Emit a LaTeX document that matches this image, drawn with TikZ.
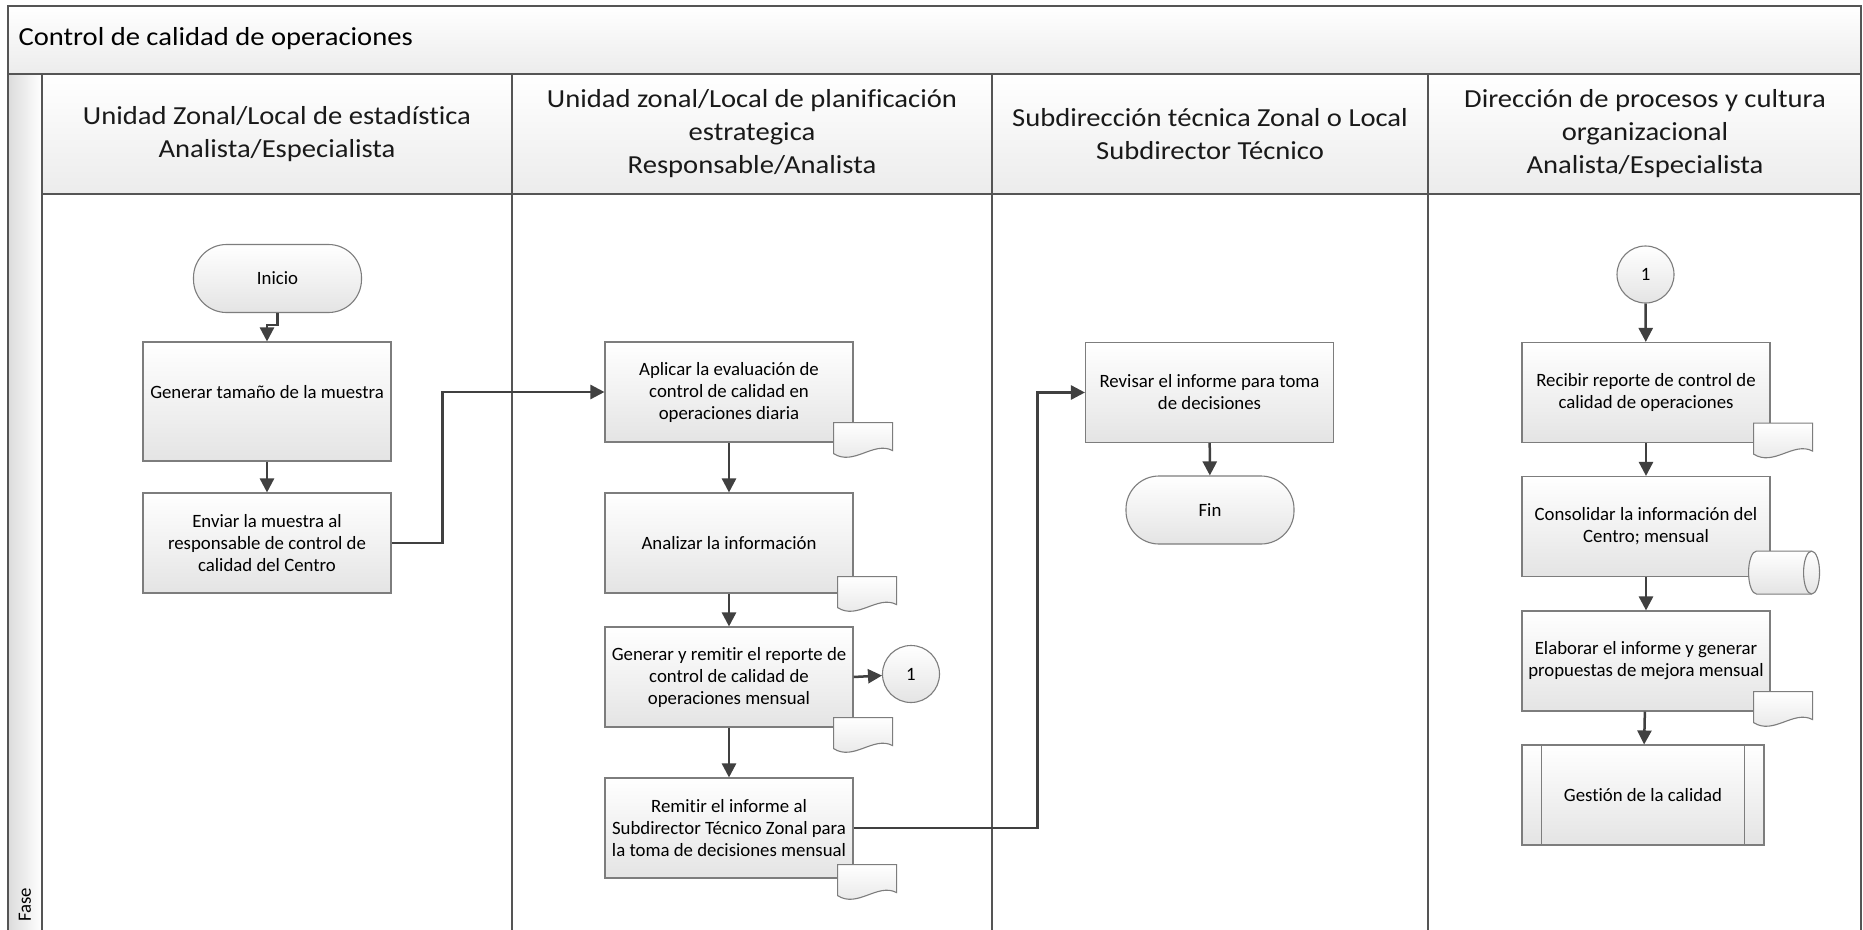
\documentclass[tikz,border=0pt]{standalone}
\usepackage{fontspec}
\setmainfont{Carlito}[Ligatures=NoCommon]
\newfontfamily\hdrfam[FakeStretch=1.1,Ligatures=NoCommon]{Carlito}
\usetikzlibrary{calc,arrows.meta}
\definecolor{lanec}{RGB}{85,85,85}
\definecolor{boxc}{RGB}{125,125,125}
\definecolor{arrc}{RGB}{64,64,64}
\definecolor{shadec}{RGB}{228,228,228}
\definecolor{hdrc}{RGB}{236,236,236}
\newcommand{\bodyf}{\fontsize{18.8}{22}\selectfont}
\newcommand{\hdrf}{\hdrfam\fontsize{26}{33}\selectfont}
\tikzset{
  lanebox/.style={draw=lanec, line width=1.8pt},
  hdrfill/.style={top color=white, bottom color=hdrc},
  hdrtext/.style={font=\hdrf, align=center, text=black!90},
  proc/.style={draw=boxc, line width=1.1pt, top color=white, bottom color=shadec,
    minimum width=248pt, minimum height=100pt, align=center, inner sep=0pt, font=\bodyf},
  term/.style={draw=boxc, line width=1.1pt, rounded corners=33pt, top color=white, bottom color=shadec,
    minimum width=168pt, minimum height=68pt, font=\bodyf},
  conn/.style={draw=boxc, line width=1.1pt, circle, minimum size=57pt, inner sep=0pt,
    top color=white, bottom color=shadec, font=\bodyf},
  docst/.style={draw=boxc, line width=1.1pt, top color=white, bottom color=shadec},
  arr/.style={draw=arrc, line width=2.5pt, -{Triangle[length=14pt,width=14pt]}},
}
\newcommand{\docicon}[1]{\begin{scope}[shift={(#1)}]
  \draw[docst] (0,0) -- (59,0) -- (59,28) .. controls (40,18) and (20,44) .. (0,31) -- cycle;
\end{scope}}
\newcommand{\cylicon}[1]{\begin{scope}[shift={(#1)}]
  \draw[docst] (8,43) arc[start angle=90,end angle=270,x radius=8,y radius=21.5] -- (63,0)
     arc[start angle=270,end angle=450,x radius=8,y radius=21.5] -- cycle;
  \draw[draw=boxc, line width=1.1pt] (63,43) arc[start angle=90,end angle=270,x radius=8,y radius=21.5];
\end{scope}}
\begin{document}
\begin{tikzpicture}[x=1pt,y=-1pt]
\useasboundingbox (0,0) rectangle (1863,929);
% backgrounds
\fill[white] (0,0) rectangle (1863,929);
\path[hdrfill] (8,6) rectangle (1861,73.7);
\path[left color=black!14, right color=white] (8,73.7) rectangle (41.6,929);
\path[hdrfill] (41.6,73.7) rectangle (1861,193.6);
% frame lines
\draw[lanebox] (8,935) -- (8,6) -- (1861,6) -- (1861,935);
\draw[lanebox] (8,73.7) -- (1861,73.7);
\draw[lanebox] (41.6,193.6) -- (1861,193.6);
\foreach \xx in {41.6,512,992,1428} \draw[lanebox] (\xx,73.7) -- (\xx,935);
% texts of frame
\node[anchor=west, font=\hdrf] (title) at (15,39) {Control de calidad de operaciones};
\node[rotate=90, font=\bodyf] (fase) at (25,905) {Fase};
\node[hdrtext] (h1) at (277,134) {Unidad Zonal/Local de estadística\\Analista/Especialista};
\node[hdrtext] (h2) at (752,134) {Unidad zonal/Local de planificación\\estrategica\\Responsable/Analista};
\node[hdrtext] (h3) at (1210,134) {Subdirección técnica Zonal o Local\\Subdirector Técnico};
\node[hdrtext] (h4) at (1645,134) {Dirección de procesos y cultura\\organizacional\\Analista/Especialista};
% nodes
\node[term] (inicio) at (277.5,278.5) {Inicio};
\node[proc, minimum height=119pt, text depth=20pt] (gen) at (267,401.5) {Generar tamaño de la muestra};
\node[proc] (env) at (267,543) {Enviar la muestra al\\responsable de control de\\calidad del Centro};
\node[proc] (apl) at (729,392) {Aplicar la evaluación de\\control de calidad en\\operaciones diaria};
\node[proc] (ana) at (729,543) {Analizar la información};
\node[proc] (grm) at (729,677) {Generar y remitir el reporte de\\control de calidad de\\operaciones mensual};
\node[proc] (rem) at (729,828) {Remitir el informe al\\Subdirector Técnico Zonal para\\la toma de decisiones mensual};
\node[conn] (c1a) at (911,674) {1};
\node[proc] (rev) at (1209.5,392.5) {Revisar el informe para toma\\de decisiones};
\node[term] (fin) at (1210,510) {Fin};
\node[conn] (c1b) at (1645.5,274.5) {1};
\node[proc] (rec) at (1646,392.5) {Recibir reporte de control de\\calidad de operaciones};
\node[proc] (con) at (1646,526.5) {Consolidar la información del\\Centro; mensual};
\node[proc] (ela) at (1646,661) {Elaborar el informe y generar\\propuestas de mejora mensual};
\node[proc, minimum width=242pt] (ges) at (1643,795) {Gestión de la calidad};
\draw[draw=boxc, line width=1.1pt] ($(ges.north west)+(20,0)$) -- ($(ges.south west)+(20,0)$);
\draw[draw=boxc, line width=1.1pt] ($(ges.north east)+(-20,0)$) -- ($(ges.south east)+(-20,0)$);
% document icons
\docicon{$(apl.south east)+(-20,-20)$}
\docicon{$(ana.south east)+(-16,-17)$}
\docicon{$(grm.south east)+(-20,-10)$}
\docicon{$(rem.south east)+(-16,-14)$}
\docicon{$(rec.south east)+(-17,-20)$}
\docicon{$(ela.south east)+(-17,-20)$}
\cylicon{$(con.south east)+(-22,-26)$}
% connectors
\draw[arr] (inicio.south) -- ++(0,12) -| (gen.north);
\draw[arr] (gen) -- (env);
\draw[arr] (env.east) -- ++(51,0) |- (apl.west);
\draw[arr] (apl) -- (ana);
\draw[arr] (ana) -- (grm);
\draw[arr] (grm) -- (rem);
\draw[arr] (grm.east) -- (c1a);
\draw[arr] (rem.east) -- ++(184,0) |- (rev.west);
\draw[arr] (rev) -- (fin);
\draw[arr] (c1b) -- (rec);
\draw[arr] (rec) -- (con);
\draw[arr] (con) -- (ela);
\draw[arr] (ela) -- (ges);
\end{tikzpicture}
\end{document}
